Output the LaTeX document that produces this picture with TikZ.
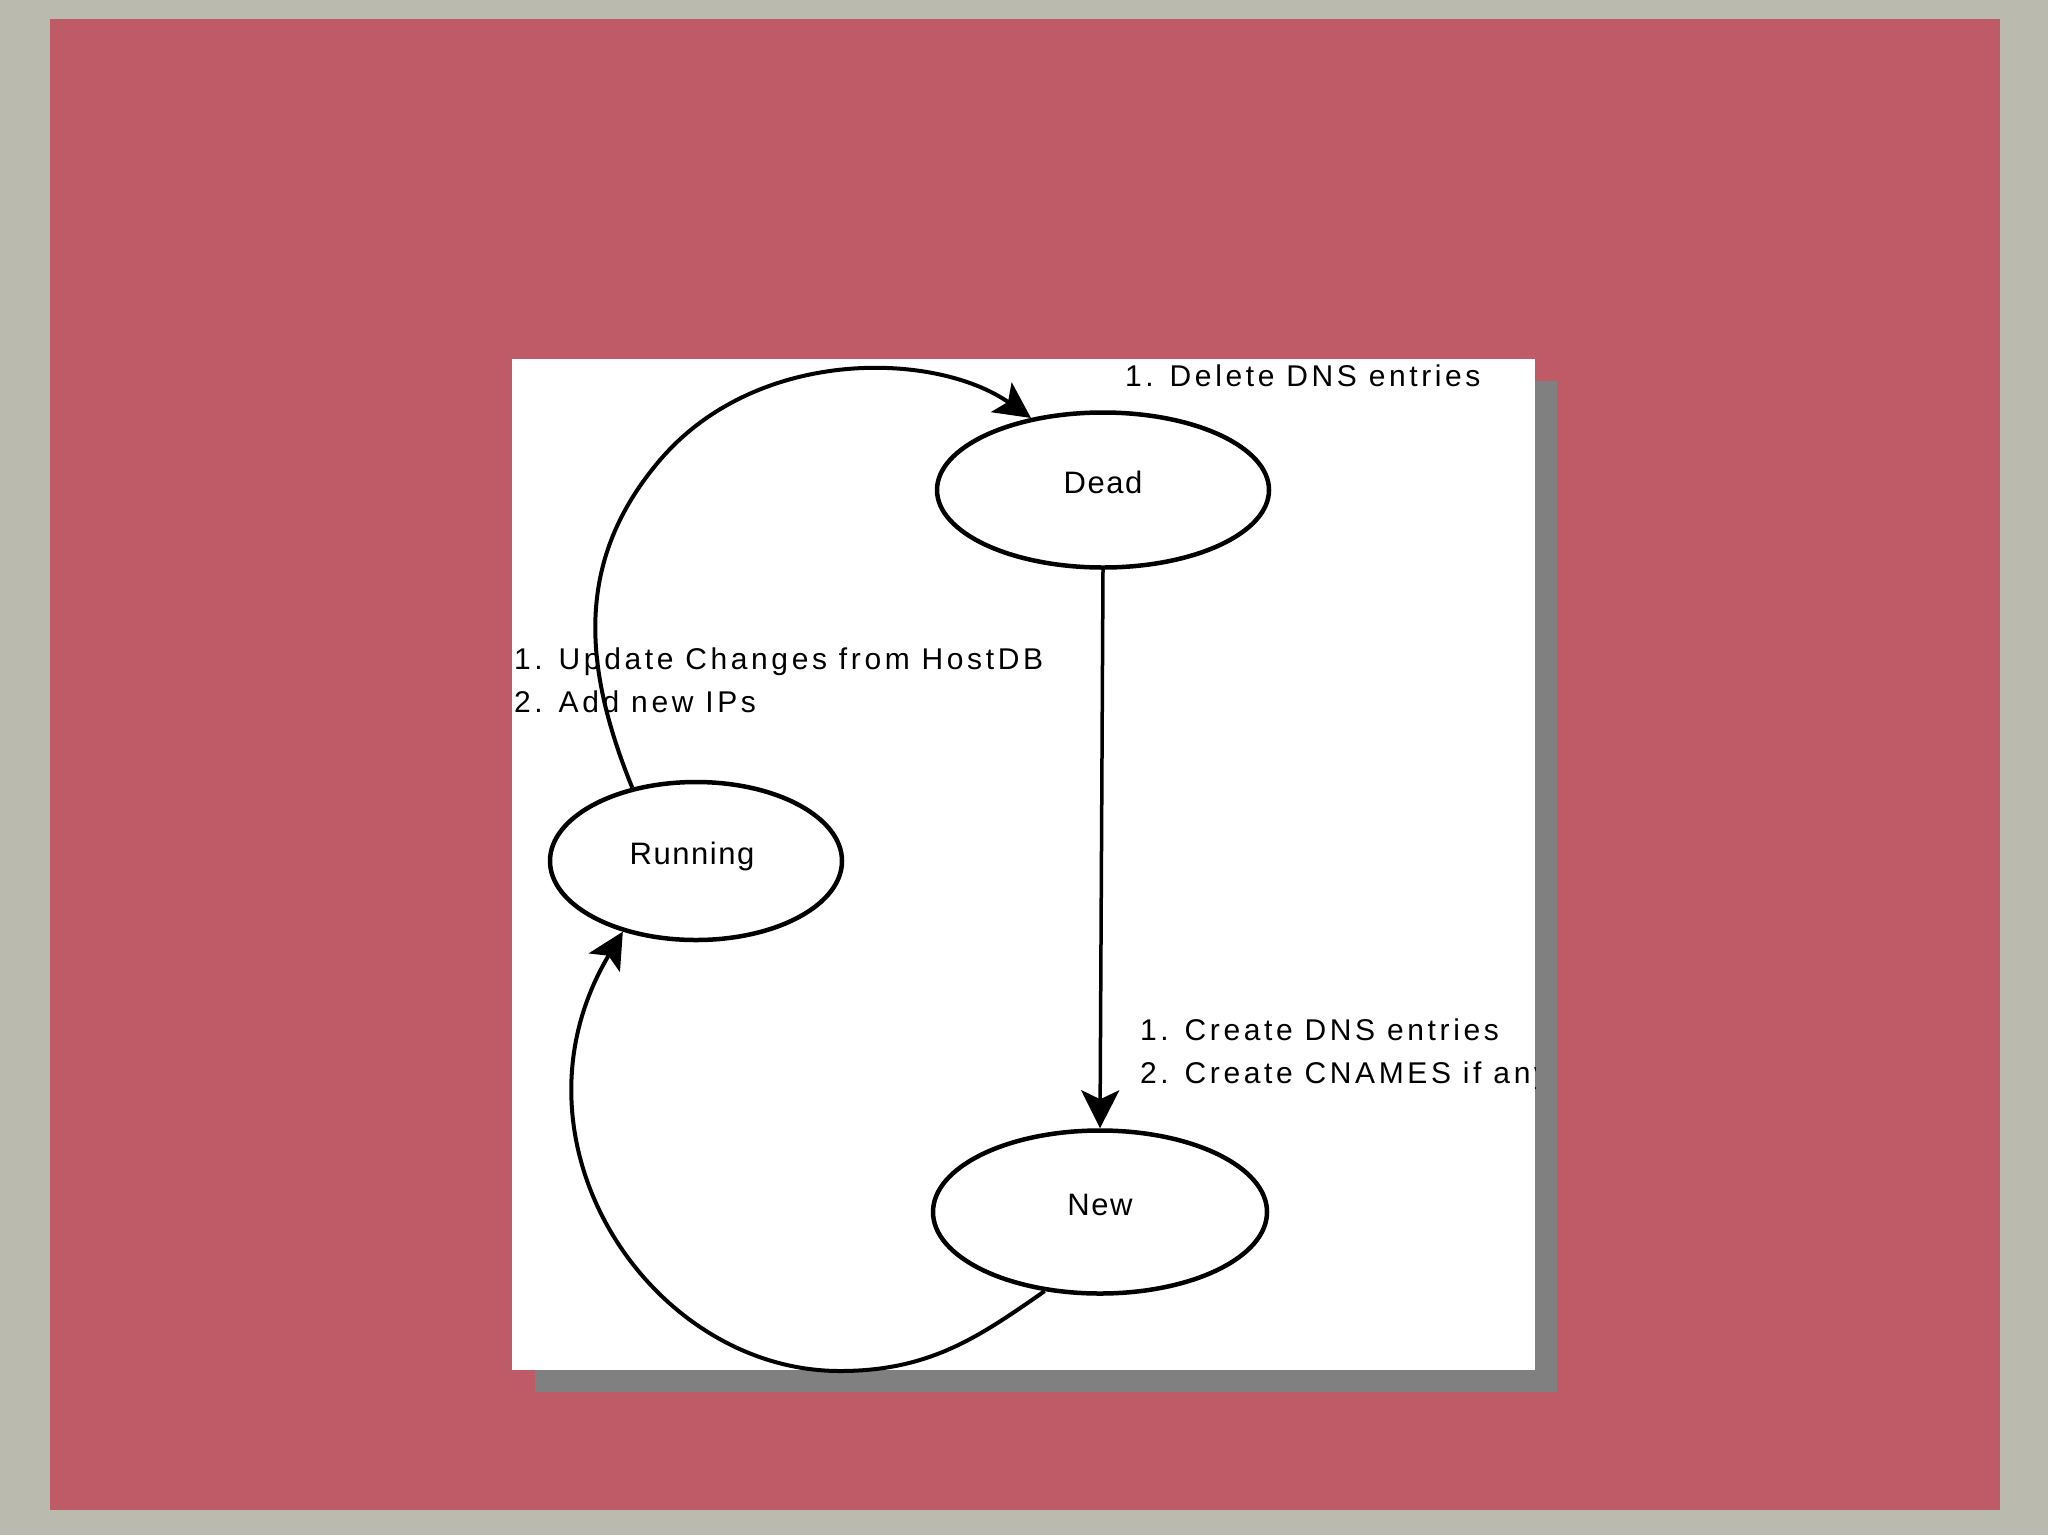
\documentclass[tikz,border=0pt]{standalone}
\usepackage{fontspec}
\setmainfont{Liberation Sans}
\newfontfamily\labfont[LetterSpace=12]{Liberation Sans}
\newfontfamily\stfont[LetterSpace=5]{Liberation Sans}
\usetikzlibrary{arrows.meta,shapes.geometric}
\definecolor{bggrey}{RGB}{187,186,174}
\definecolor{bgred}{RGB}{190,91,102}
\definecolor{shadowgrey}{RGB}{128,128,128}
\begin{document}
\begin{tikzpicture}[x=1pt,y=-1pt,
  state/.style={ellipse, draw=black, line width=4.5pt, fill=white, inner sep=0pt,
    font=\stfont\fontsize{31pt}{37pt}\selectfont, text height=22pt, text depth=16pt},
  lab/.style={anchor=base west, inner sep=0pt, align=left,
    font=\labfont\fontsize{30pt}{43pt}\selectfont},
  flow/.style={line width=4pt, -{Stealth[length=36pt,width=36pt,inset=8pt]}},
  ]
\useasboundingbox (0,0) rectangle (2048,1535);
\fill[bggrey] (0,0) rectangle (2048,1535);
\fill[bgred] (50,19) rectangle (2000,1510);
\fill[shadowgrey] (535,381) rectangle (1557,1392);
\fill[white] (512,359) rectangle (1535,1370);

\node[state, minimum width=332pt, minimum height=155pt] (dead) at (1103,490) {Dead};
\node[state, minimum width=292pt, minimum height=158pt] (running) at (696,861) {\hspace*{-8pt}Running};
\node[state, minimum width=334pt, minimum height=163pt] (new) at (1100,1212) {New};

\draw[flow] (running.131) .. controls (582,664) and (575.5,559) .. (660,460)
  .. controls (757.5,346) and (935.7,351.4) .. (dead.135);
\draw[line width=3.5pt, -{Stealth[length=38pt,width=38pt,inset=9pt]}] (dead.south) -- (new.north);
\draw[flow] (new.235) .. controls (979.4,1336.6) and (930,1371) .. (840,1371)
  .. controls (650,1371) and (497.6,1141.4) .. (running.224);

\begin{scope}
\clip (512,359) rectangle (1535,1370);
\node[lab] (ldel) at (1125,386) {1. Delete DNS entries};
\node[lab] (lupd) at (514,712) {1. Update Changes from HostDB\\2. Add new IPs};
\node[lab] (lcre) at (1140,1083) {1. Create DNS entries\\2. Create CNAMES if any};
\end{scope}
\end{tikzpicture}
\end{document}
